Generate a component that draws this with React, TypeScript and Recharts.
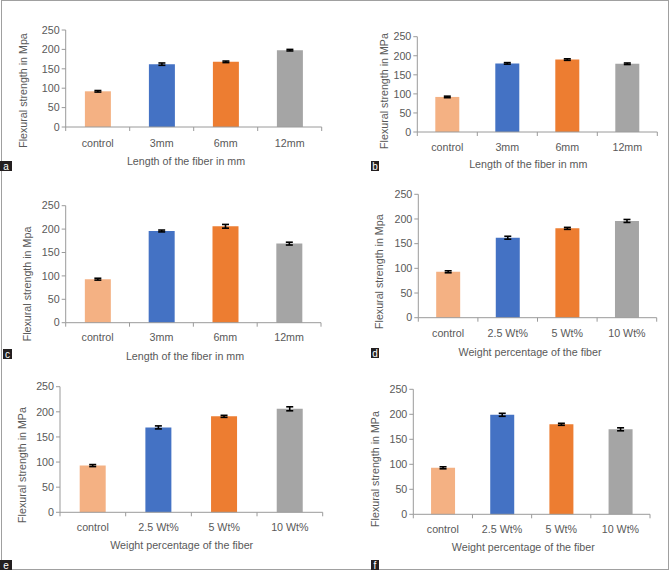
import React from 'react';
import { BarChart, Bar, XAxis, YAxis, ErrorBar, Cell, Label } from 'recharts';

const lengthCategories = ['control', '3mm', '6mm', '12mm'];
const weightCategories = ['control', '2.5 Wt%', '5 Wt%', '10 Wt%'];
const yTicks = [0, 50, 100, 150, 200, 250];

const valuesA = [92, 162, 168, 198];
const errorsA = [2, 3, 2, 2];
const valuesB = [92, 180, 190, 179];
const errorsB = [2, 2, 2, 2];
const valuesC = [93, 196, 206, 169];
const errorsC = [2, 2, 4, 3];
const valuesD = [93, 162, 181, 196];
const errorsD = [2, 3, 2, 3];
const valuesE = [93, 169, 191, 206];
const errorsE = [2, 3, 2, 4];
const valuesF = [93, 199, 180, 170];
const errorsF = [2, 3, 2, 3];

const barColors = ['#F4B183', '#4472C4', '#ED7D31', '#A5A5A5'];

const FONT = '"Liberation Sans", Arial, sans-serif';
const TEXT = '#595959';
const AXIS = '#9a9a9a';
const FS = 10.7;
const Y_AXIS_W = 40;
const X_AXIS_H = 30;

type Panel = {
  letter: string;
  cats: string[];
  values: number[];
  errors: number[];
  yTitle: string;
  xTitle: string;
  box: { x: number; y: number; w: number; h: number };
  axisX: number;
  xEnd: number;
  yTop: number;
  yBottom: number;
  tickY: number;
  titleX: number;
  titleY: number;
  yTitleX: number;
  yTitleY: number;
  letterX: number;
  letterY: number;
  letterW: number;
};

const panels: Panel[] = [
  {
    letter: 'a', cats: lengthCategories, values: valuesA, errors: errorsA,
    yTitle: 'Flexural strength in Mpa', xTitle: 'Length of the fiber in mm',
    box: { x: 0, y: 0, w: 335, h: 175 },
    axisX: 65.7, xEnd: 321.7, yTop: 30, yBottom: 127, tickY: 142.7,
    titleX: 186, titleY: 161, yTitleX: 22.5, yTitleY: 90.5, letterX: 0, letterY: 161, letterW: 12,
  },
  {
    letter: 'b', cats: lengthCategories, values: valuesB, errors: errorsB,
    yTitle: 'Flexural strength in MPa', xTitle: 'Length of the fiber in mm',
    box: { x: 335, y: 0, w: 334, h: 175 },
    axisX: 417.3, xEnd: 657.3, yTop: 36.7, yBottom: 132, tickY: 146.7,
    titleX: 528.3, titleY: 164.3, yTitleX: 384.3, yTitleY: 91, letterX: 371, letterY: 161, letterW: 8,
  },
  {
    letter: 'c', cats: lengthCategories, values: valuesC, errors: errorsC,
    yTitle: 'Flexural strength in Mpa', xTitle: 'Length of the fiber in mm',
    box: { x: 0, y: 175, w: 335, h: 190 },
    axisX: 65.7, xEnd: 321, yTop: 205.7, yBottom: 322.7, tickY: 336.7,
    titleX: 185, titleY: 356, yTitleX: 26.7, yTitleY: 284, letterX: 3, letterY: 349, letterW: 9,
  },
  {
    letter: 'd', cats: weightCategories, values: valuesD, errors: errorsD,
    yTitle: 'Flexural strength in Mpa', xTitle: 'Weight percentage of the fiber',
    box: { x: 335, y: 175, w: 334, h: 190 },
    axisX: 418.3, xEnd: 656.7, yTop: 194.3, yBottom: 317.7, tickY: 333.3,
    titleX: 530, titleY: 351.7, yTitleX: 379.3, yTitleY: 271.7, letterX: 371, letterY: 348, letterW: 8,
  },
  {
    letter: 'e', cats: weightCategories, values: valuesE, errors: errorsE,
    yTitle: 'Flexural strength in MPa', xTitle: 'Weight percentage of the fiber',
    box: { x: 0, y: 365, w: 335, h: 205 },
    axisX: 60, xEnd: 322.7, yTop: 386.7, yBottom: 512.3, tickY: 526.7,
    titleX: 181.7, titleY: 545, yTitleX: 21.7, yTitleY: 465, letterX: 0, letterY: 560, letterW: 12,
  },
  {
    letter: 'f', cats: weightCategories, values: valuesF, errors: errorsF,
    yTitle: 'Flexural strength in MPa', xTitle: 'Weight percentage of the fiber',
    box: { x: 335, y: 365, w: 334, h: 205 },
    axisX: 413.3, xEnd: 650, yTop: 389.3, yBottom: 514.3, tickY: 529.3,
    titleX: 523.3, titleY: 547.3, yTitleX: 375, yTitleY: 469, letterX: 371, letterY: 560, letterW: 8,
  },
];

function PanelChart({ p }: { p: Panel }) {
  const data = p.cats.map((c, i) => ({ name: c, value: p.values[i], error: p.errors[i] }));
  const bx = p.box.x;
  const by = p.box.y;
  const axisYRel = p.yBottom - by;
  const half = (p.xEnd - p.axisX) / p.cats.length / 2;
  const margin = {
    top: p.yTop - by,
    left: p.axisX - bx - Y_AXIS_W,
    right: bx + p.box.w - p.xEnd,
    bottom: p.box.h - axisYRel - X_AXIS_H,
  };

  const renderTick = (props: any) => {
    const { x, payload, index } = props;
    const last = index === p.cats.length - 1;
    return (
      <g>
        <line x1={x - half} y1={axisYRel} x2={x - half} y2={axisYRel + 4} stroke={AXIS} strokeWidth={1} />
        {last && (
          <line x1={x + half} y1={axisYRel} x2={x + half} y2={axisYRel + 4} stroke={AXIS} strokeWidth={1} />
        )}
        <text
          x={x}
          y={p.tickY - by}
          textAnchor="middle"
          dominantBaseline="central"
          fontSize={FS}
          fontFamily={FONT}
          fill={TEXT}
        >
          {payload.value}
        </text>
      </g>
    );
  };

  const renderXTitle = () => (
    <g>
      <text
        x={p.titleX - bx}
        y={p.titleY - by}
        textAnchor="middle"
        dominantBaseline="central"
        fontSize={FS}
        fontFamily={FONT}
        fill={TEXT}
      >
        {p.xTitle}
      </text>
      <rect x={p.letterX - bx} y={p.letterY - by} width={p.letterW} height={10} fill="#231f20" />
      <text
        x={p.letterX - bx + p.letterW / 2}
        y={p.letterY - by + 5}
        textAnchor="middle"
        dominantBaseline="central"
        fontSize={10}
        fontFamily={FONT}
        fill="#ffffff"
      >
        {p.letter}
      </text>
    </g>
  );

  const renderYTitle = () => (
    <text
      x={p.yTitleX - bx}
      y={p.yTitleY - by}
      textAnchor="middle"
      dominantBaseline="central"
      fontSize={FS}
      fontFamily={FONT}
      fill={TEXT}
      transform={`rotate(-90 ${p.yTitleX - bx} ${p.yTitleY - by})`}
    >
      {p.yTitle}
    </text>
  );

  return (
    <div style={{ position: 'absolute', left: bx, top: by, width: p.box.w, height: p.box.h }}>
      <BarChart
        width={p.box.w}
        height={p.box.h}
        data={data}
        margin={margin}
        barCategoryGap="30%"
      >
        <XAxis
          dataKey="name"
          type="category"
          interval={0}
          height={X_AXIS_H}
          axisLine={{ stroke: AXIS, strokeWidth: 1 }}
          tickLine={false}
          tick={renderTick}
        >
          <Label content={renderXTitle} />
        </XAxis>
        <YAxis
          type="number"
          domain={[0, 250]}
          ticks={yTicks}
          interval={0}
          width={Y_AXIS_W}
          tickSize={4}
          tickMargin={2}
          axisLine={{ stroke: AXIS, strokeWidth: 1 }}
          tickLine={{ stroke: AXIS, strokeWidth: 1 }}
          tick={{ fill: TEXT, fontSize: FS, fontFamily: FONT }}
        >
          <Label content={renderYTitle} />
        </YAxis>
        <Bar dataKey="value" isAnimationActive={false}>
          {data.map((d, i) => (
            <Cell key={d.name} fill={barColors[i]} />
          ))}
          <ErrorBar dataKey="error" width={3.5} stroke="#000000" strokeWidth={1.6} />
        </Bar>
      </BarChart>
    </div>
  );
}

export default function App() {
  return (
    <div
      style={{
        position: 'absolute',
        left: 0,
        top: 0,
        width: 669,
        height: 570,
        background: '#ffffff',
        overflow: 'hidden',
        fontFamily: FONT,
      }}
    >
      <div
        style={{
          position: 'absolute',
          left: 1,
          top: 0,
          width: 668,
          height: 570,
          boxSizing: 'border-box',
          border: '1px solid #a0a0a0',
        }}
      />
      {panels.map((p) => (
        <PanelChart key={p.letter} p={p} />
      ))}
    </div>
  );
}
